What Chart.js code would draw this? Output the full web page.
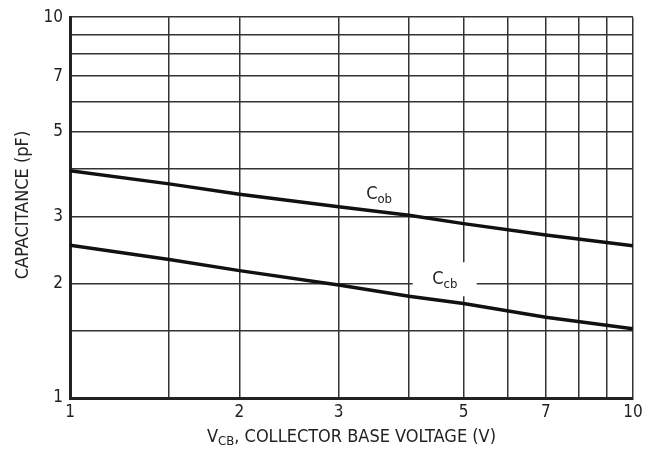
<!DOCTYPE html>
<html>
<head>
<meta charset="utf-8">
<script src="https://cdn.jsdelivr.net/npm/chart.js@4"></script>
<style>
  html, body { margin: 0; padding: 0; background: #fff; }
  #wrap { width: 655px; height: 457px; }
</style>
</head>
<body>
<div id="wrap"><canvas id="chart"></canvas></div>
<script>
const FONT = '"Liberation Sans Narrow", "DejaVu Sans Condensed", sans-serif'

const vcb = [1, 1.5, 2, 3, 4, 5, 7, 10]
const cob = [3.95, 3.65, 3.43, 3.18, 3.02, 2.87, 2.68, 2.51]
const ccb = [2.52, 2.31, 2.16, 1.98, 1.85, 1.77, 1.63, 1.52]

const gridTicks = [1, 1.5, 2, 3, 4, 5, 6, 7, 8, 9, 10]
const shownTicks = [1, 2, 3, 5, 7, 10]

// curve labels: [main, subscript, x, y, box half width, box half height]
const curveLabels = [
  ['C', 'ob', 3.54, 3.43, 22, 14],
  ['C', 'cb', 4.63, 2.05, 32, 17]
]

const toPoints = (ys) => vcb.map((x, i) => ({ x: x, y: ys[i] }))

const tickCb = (v) => shownTicks.includes(v) ? String(v) : ''

const labelPlugin = {
  id: 'labels',
  // white boxes hide the grid behind the labels, curves still go on top
  beforeDatasetsDraw(chart) {
    const ctx = chart.ctx
    const xs = chart.scales.x
    const ys = chart.scales.y
    ctx.save()
    ctx.fillStyle = '#fff'
    curveLabels.forEach(([main, sub, vx, vy, hw, hh]) => {
      const px = xs.getPixelForValue(vx)
      const py = ys.getPixelForValue(vy)
      ctx.fillRect(px - hw, py - hh, hw * 2, hh * 2)
    })
    ctx.restore()
  },
  afterDatasetsDraw(chart) {
    const ctx = chart.ctx
    const xs = chart.scales.x
    const ys = chart.scales.y
    ctx.save()
    ctx.fillStyle = '#222'
    ctx.textBaseline = 'middle'
    curveLabels.forEach(([main, sub, vx, vy]) => {
      const px = xs.getPixelForValue(vx)
      const py = ys.getPixelForValue(vy)
      ctx.font = '18px ' + FONT
      const w1 = ctx.measureText(main).width
      ctx.font = '13px ' + FONT
      const w2 = ctx.measureText(sub).width
      const x0 = px - (w1 + w2) / 2
      ctx.font = '18px ' + FONT
      ctx.fillText(main, x0, py)
      ctx.font = '13px ' + FONT
      ctx.fillText(sub, x0 + w1, py + 5)
    })
    ctx.restore()
  },
  afterDraw(chart) {
    const ctx = chart.ctx
    const a = chart.chartArea
    ctx.save()
    ctx.fillStyle = '#222'
    ctx.textBaseline = 'middle'
    // x axis title with subscript
    const parts = [['V', 18, 0], ['CB', 13, 5], [', COLLECTOR BASE VOLTAGE (V)', 18, 0]]
    let total = 0
    parts.forEach(([t, s]) => { ctx.font = s + 'px ' + FONT; total += ctx.measureText(t).width })
    let x = (a.left + a.right) / 2 - total / 2
    parts.forEach(([t, s, dy]) => {
      ctx.font = s + 'px ' + FONT
      ctx.fillText(t, x, 437 + dy)
      x += ctx.measureText(t).width
    })
    // y axis title
    ctx.translate(23, 205)
    ctx.rotate(-Math.PI / 2)
    ctx.textAlign = 'center'
    ctx.font = '18px ' + FONT
    ctx.fillText('CAPACITANCE (pF)', 0, 0)
    ctx.restore()
  }
}

new Chart(document.getElementById('chart'), {
  type: 'line',
  data: {
    datasets: [
      { label: 'Cob', data: toPoints(cob), borderColor: '#111', borderWidth: 3.5, pointRadius: 0, tension: 0 },
      { label: 'Ccb', data: toPoints(ccb), borderColor: '#111', borderWidth: 3.5, pointRadius: 0, tension: 0 }
    ]
  },
  options: {
    responsive: true,
    maintainAspectRatio: false,
    animation: false,
    layout: { padding: { top: 13, right: 22, left: 0, bottom: 0 } },
    plugins: { legend: { display: false }, tooltip: { enabled: false } },
    scales: {
      x: {
        type: 'logarithmic',
        min: 1,
        max: 10,
        afterBuildTicks: (s) => { s.ticks = gridTicks.map(v => ({ value: v })) },
        afterFit: (s) => { s.height = 59 },
        grid: { color: '#333', lineWidth: 1.5, drawTicks: false },
        border: { color: '#222', width: 3 },
        ticks: { callback: tickCb, color: '#222', padding: 4, maxRotation: 0, autoSkip: false, font: { family: FONT, size: 17 } }
      },
      y: {
        type: 'logarithmic',
        min: 1,
        max: 10,
        afterBuildTicks: (s) => { s.ticks = gridTicks.map(v => ({ value: v })) },
        afterFit: (s) => { s.width = 70 },
        grid: { color: '#333', lineWidth: 1.5, drawTicks: false },
        border: { color: '#222', width: 3 },
        ticks: { callback: tickCb, color: '#222', padding: 7, autoSkip: false, font: { family: FONT, size: 17 } }
      }
    }
  },
  plugins: [labelPlugin]
})
</script>
</body>
</html>
